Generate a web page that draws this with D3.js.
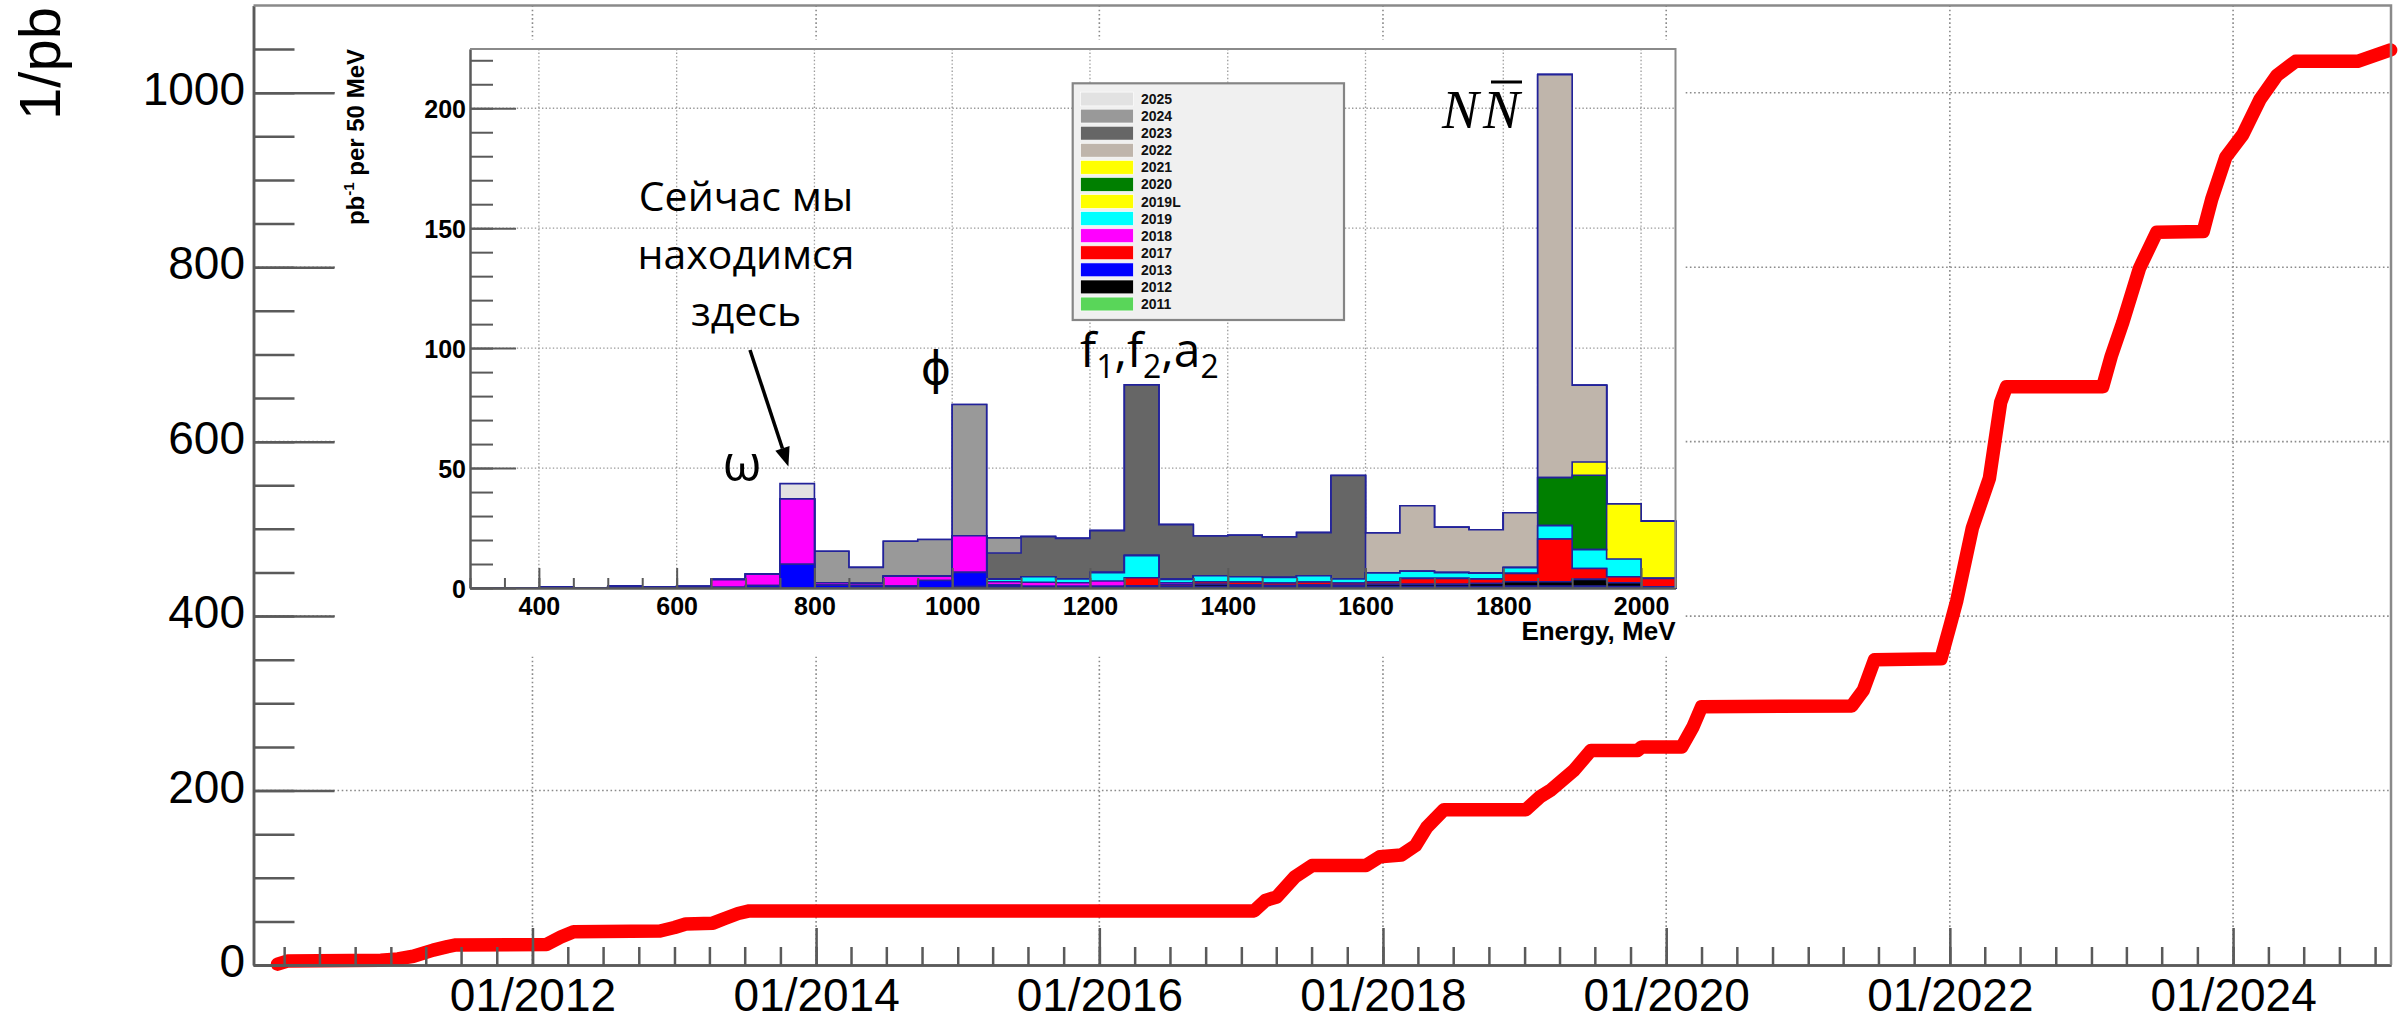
<!DOCTYPE html>
<html>
<head>
<meta charset="utf-8">
<script src="https://cdn.jsdelivr.net/npm/d3@7/dist/d3.min.js"></script>
<style>
  html, body { margin: 0; padding: 0; background: #ffffff; }
  svg { display: block; font-family: "Liberation Sans", Arial, sans-serif; }
</style>
</head>
<body>
<svg id="chart" width="2404" height="1020"></svg>
<script>
// ---------- Integrated luminosity collected since 2010 (1/pb) ----------
const lumiDates = [
  "2010-03-15","2010-04-09","2010-12-06","2011-01-19","2011-02-28","2011-04-20","2011-05-27","2011-06-18",
  "2012-02-06","2012-03-14","2012-04-16","2012-11-25","2013-01-01","2013-01-30","2013-04-10","2013-05-09",
  "2013-06-14","2013-07-13","2017-02-03","2017-03-04","2017-04-02","2017-05-19","2017-07-02","2017-11-18",
  "2017-12-24","2018-02-17","2018-03-26","2018-04-24","2018-06-07","2019-01-04","2019-02-10","2019-03-11",
  "2019-05-08","2019-06-21","2019-10-19","2019-10-30","2020-02-10","2020-03-10","2020-04-01","2021-04-23",
  "2021-05-23","2021-06-21","2021-12-09","2022-01-01","2022-01-19","2022-02-28","2022-04-13","2022-05-12",
  "2022-05-27","2023-01-30","2023-02-21","2023-03-23","2023-05-05","2023-06-18","2023-10-16","2023-11-07",
  "2023-12-13","2024-01-26","2024-03-10","2024-04-23","2024-06-10","2024-11-17","2025-02-10"
];
const lumiTotals = [
  1, 4.5, 5.5, 7, 10, 17, 21, 23,
  23.5, 32, 38, 39, 43, 47, 48, 53,
  59, 62, 62, 74, 78, 101, 114, 114,
  124, 126, 137, 158, 178, 178, 193, 201,
  223, 246, 246, 250, 250, 273, 296, 297,
  315, 350, 351, 388, 418, 501, 558, 645,
  663, 663, 698, 737, 799, 840, 841, 878,
  926, 952, 992, 1020, 1036, 1036, 1049
];

// Axis ticks of the luminosity-vs-date plot
const yearTicks = ["2012-01-01","2014-01-01","2016-01-01","2018-01-01","2020-01-01","2022-01-01","2024-01-01"];
const lumiTicks = [0, 200, 400, 600, 800, 1000];

// ---------- Luminosity per 50 MeV energy bin, one array per season ----------
const energyBins = [300,350,400,450,500,550,600,650,700,750,800,850,900,950,1000,1050,1100,1150,1200,1250,
                    1300,1350,1400,1450,1500,1550,1600,1650,1700,1750,1800,1850,1900,1950,2000];
const seasons = ["2011","2012","2013","2017","2018","2019","2019L","2020","2021","2022","2023","2024","2025"];

const lumi2011  = [0,0,0,0,0,0,0,0,0,0, 0,0,0,0,0.6,0.6,0.6,0.6,0.6,0.5, 0.6,0.6,0.6,0.6,0.6,0.6,0.6,0.6,0.6,0.6, 0.8,0.8,0.8,0.6,0];
const lumi2012  = [0,0,0,0,0,0,0,0,0,0, 0,0,0,0,0,0,0,0,0,0.4, 0,0.9,0.6,0.4,0.6,0.5,0.9,0.9,0.9,1.3, 1.8,1.8,2.8,1.6,0.5];
const lumi2013  = [0,0,0.4,0,0,0,0,0.3,1.0,9.9, 1.2,1.0,0.8,3.1,5.9,0.6,0,0,0,0, 0,0,0,0,0,0,0,0,0,0, 0,0,0,0,0];
const lumi2017  = [0,0,0,0,0,0,0,0,0,0, 0,0,0,0,0,0,0,0,0,3.4, 0.8,1.1,1.3,1.1,1.3,1.0,1.1,2.5,2.5,1.9, 3.5,17.8,4.5,2.5,3.5];
const lumi2018  = [0,0,0,0,0.7,0.5,0.6,3.2,4.8,27.2, 1.0,0.9,4.1,1.8,15.3,1.4,1.8,1.6,2.3,0, 0.8,0,0,0,0,0,0,0,0,0, 0,0,0,0,0];
const lumi2019  = [0,0,0,0,0,0,0,0,0,0, 0,0,0,0,0,1.1,2.3,1.6,3.5,9.2, 1.4,2.5,2.2,2.3,2.6,1.7,3.7,3.0,2.4,2.4, 2.4,5.6,7.9,7.4,0];
const lumi2019L = [0,0,0,0,0,0,0,0,0,0, 0,0,0,0,0,0,0,0,0,0, 0,0,0,0,0,0,0,0,0,0, 0,0,0,22.9,23.8];
const lumi2020  = [0,0,0,0,0,0,0,0,0,0, 0,0,0,0,0,0,0,0,0,0, 0,0,0,0,0,0,0,0,0,0, 0,20.0,31.0,0,0];
const lumi2021  = [0,0,0,0,0,0,0,0,0,0, 0,0,0,0,0,0,0,0,0,0, 0,0,0,0,0,0,0,0,0,0, 0,0,5.5,0,0];
const lumi2022  = [0,0,0,0,0,0,0,0,0,0, 0,0,0,0,0,0,0,0,0,0, 0,0,0,0,0,0,16.6,27.3,18.9,18.1, 22.9,168.0,32.0,0,0];
const lumi2023  = [0,0,0,0,0,0,0,0,0,0, 0,0,0,0,0,10.9,16.7,16.9,17.5,71.2, 22.8,16.6,17.3,16.9,18.0,43.1,0,0,0,0, 0,0,0,0,0];
const lumi2024  = [0,0,0,0,0,0,0,0,0,0, 13.1,6.7,14.6,15.3,54.7,6.3,0,0,0,0, 0,0,0,0,0,0,0,0,0,0, 0,0,0,0,0];
const lumi2025  = [0,0,0,0,0,0,0,0,0,6.4, 0,0,0,0,0,0,0,0,0,0, 0,0,0,0,0,0,0,0,0,0, 0,0,0,0,0];

const seasonValues = [lumi2011, lumi2012, lumi2013, lumi2017, lumi2018, lumi2019, lumi2019L,
                      lumi2020, lumi2021, lumi2022, lumi2023, lumi2024, lumi2025];
const seasonColors = ["#59d659","#000000","#0000ff","#ff0000","#ff00ff","#00ffff","#ffff00",
                      "#007f00","#ffff00","#bfb5ab","#666666","#999999","#e2e2e2"];

const energyTicks = [400, 600, 800, 1000, 1200, 1400, 1600, 1800, 2000];
const perBinTicks = [0, 50, 100, 150, 200];

// =====================================================================
const svg = d3.select("#chart");
const parse = d3.utcParse("%Y-%m-%d");

// ---------- main plot: luminosity vs date ----------
const F = { left: 253.5, right: 2391, top: 5.5, bottom: 965 };
const x = d3.scaleUtc()
  .domain([new Date(Date.UTC(2010, 0, 12)), new Date(Date.UTC(2025, 1, 11))])
  .range([F.left, F.right]);
const y = d3.scaleLinear().domain([0, 1100]).range([F.bottom, F.top]);

const yearDates = yearTicks.map(parse);

// dotted grid
const grid = svg.append("g")
  .attr("stroke", "#8a8a8a").attr("stroke-width", 1.6).attr("stroke-dasharray", "1.6,2.6");
grid.selectAll("line.gx").data(yearDates).join("line").attr("class", "gx")
  .attr("x1", d => x(d)).attr("x2", d => x(d)).attr("y1", F.top).attr("y2", F.bottom);
grid.selectAll("line.gy").data(lumiTicks.filter(v => v > 0)).join("line").attr("class", "gy")
  .attr("x1", F.left).attr("x2", F.right).attr("y1", d => y(d)).attr("y2", d => y(d));

// integrated luminosity curve
const lumiSeries = lumiDates.map((d, i) => ({ date: parse(d), v: lumiTotals[i] }));
svg.append("path")
  .datum(lumiSeries)
  .attr("fill", "none").attr("stroke", "#ff0000").attr("stroke-width", 13.5)
  .attr("stroke-linejoin", "round").attr("stroke-linecap", "round")
  .attr("d", d3.line().x(d => x(d.date)).y(d => y(d.v)));

function styleAxis(g, size, weight) {
  g.attr("font-size", size).attr("font-family", "'Liberation Sans', Arial, sans-serif")
   .attr("font-weight", weight || "normal");
  g.selectAll(".tick line").attr("stroke", "#5a5a5a").attr("stroke-width", 2.5);
  g.selectAll(".tick text").attr("fill", "#000");
  g.select(".domain").attr("stroke", "#5a5a5a").attr("stroke-width", 2.5);
}

// x axis: minor every 3 months, major every 2 years
const gxMinor = svg.append("g").attr("transform", `translate(0,${F.bottom})`)
  .call(d3.axisBottom(x).ticks(d3.utcMonth.every(3)).tickSize(-18).tickSizeOuter(0).tickFormat(""));
styleAxis(gxMinor, 46);
const gxMajor = svg.append("g").attr("transform", `translate(0,${F.bottom})`)
  .call(d3.axisBottom(x).tickValues(yearDates).tickSize(-37).tickSizeOuter(0).tickPadding(13)
        .tickFormat(d3.utcFormat("%m/%Y")));
styleAxis(gxMajor, 46);

// y axis: minor every 50, major every 200
const gyMinor = svg.append("g").attr("transform", `translate(${F.left},0)`)
  .call(d3.axisLeft(y).tickValues(d3.range(0, 1100, 50)).tickSize(-41).tickSizeOuter(0).tickFormat(""));
styleAxis(gyMinor, 46);
const gyMajor = svg.append("g").attr("transform", `translate(${F.left},0)`)
  .call(d3.axisLeft(y).tickValues(lumiTicks).tickSize(-81).tickSizeOuter(0).tickPadding(8.5)
        .tickFormat(d3.format("d")));
styleAxis(gyMajor, 46);
gyMajor.selectAll(".tick text").attr("dy", "0.25em");

// frame top / right
svg.append("path")
  .attr("d", `M${F.left},${F.top}H${F.right}V${F.bottom}`)
  .attr("fill", "none").attr("stroke", "#8a8a8a").attr("stroke-width", 2.5);

// y title
svg.append("text")
  .attr("transform", "translate(60,7) rotate(-90)")
  .attr("text-anchor", "end").attr("font-size", 58).attr("fill", "#000")
  .text("1/pb");

// ---------- inset: luminosity per energy bin ----------
const inset = svg.append("g");
inset.append("rect").attr("x", 336).attr("y", 39.5).attr("width", 1348).attr("height", 617).attr("fill", "#fff");

const I = { left: 470, right: 1675.5, top: 49, bottom: 588 };

// stacked cumulative sums
let running = energyBins.map(() => 0);
const stackLayers = seasons.map((name, k) => {
  running = running.map((c, i) => c + seasonValues[k][i]);
  return { name, color: seasonColors[k], tops: running.slice() };
});
const totals = stackLayers[stackLayers.length - 1].tops;

const ex = d3.scaleLinear().domain([300, 2050]).range([I.left, I.right]);
const ey = d3.scaleLinear().domain([0, d3.max(totals) * 1.05]).range([I.bottom, I.top]);

// inset grid
const igrid = inset.append("g")
  .attr("stroke", "#9a9a9a").attr("stroke-width", 1.3).attr("stroke-dasharray", "1.4,2.2");
igrid.selectAll("line.vx").data(energyTicks).join("line").attr("class", "vx")
  .attr("x1", d => ex(d)).attr("x2", d => ex(d)).attr("y1", I.top).attr("y2", I.bottom);
igrid.selectAll("line.hy").data(perBinTicks.filter(v => v > 0)).join("line").attr("class", "hy")
  .attr("x1", I.left).attr("x2", I.right).attr("y1", d => ey(d)).attr("y2", d => ey(d));

// stacked histogram: draw the full sum first, then each lower partial sum on top
const stepArea = d3.area().curve(d3.curveStepAfter)
  .x(d => ex(d.e)).y0(ey(0)).y1(d => ey(d.v));
const layerPoints = L => energyBins.map((e, i) => ({ e, v: L.tops[i] }))
  .concat([{ e: energyBins[energyBins.length - 1] + 50, v: L.tops[L.tops.length - 1] }]);
inset.append("g").selectAll("path")
  .data(stackLayers.slice().reverse())
  .join("path")
  .attr("d", L => stepArea(layerPoints(L)))
  .attr("fill", L => L.color)
  .attr("stroke", "#22229a").attr("stroke-width", 1.6).attr("stroke-linejoin", "miter");

// inset axes
const ixMinor = inset.append("g").attr("transform", `translate(0,${I.bottom})`)
  .call(d3.axisBottom(ex).tickValues(d3.range(300, 2051, 50)).tickSize(-10).tickSizeOuter(0).tickFormat(""));
styleAxis(ixMinor, 25, "bold");
const ixMajor = inset.append("g").attr("transform", `translate(0,${I.bottom})`)
  .call(d3.axisBottom(ex).tickValues(energyTicks).tickSize(-20).tickSizeOuter(0).tickPadding(9)
        .tickFormat(d3.format("d")));
styleAxis(ixMajor, 25, "bold");
const iyMinor = inset.append("g").attr("transform", `translate(${I.left},0)`)
  .call(d3.axisLeft(ey).tickValues(d3.range(0, 221, 10)).tickSize(-23).tickSizeOuter(0).tickFormat(""));
styleAxis(iyMinor, 25, "bold");
const iyMajor = inset.append("g").attr("transform", `translate(${I.left},0)`)
  .call(d3.axisLeft(ey).tickValues(perBinTicks).tickSize(-46).tickSizeOuter(0).tickPadding(4)
        .tickFormat(d3.format("d")));
styleAxis(iyMajor, 25, "bold");
iyMajor.selectAll(".tick text").attr("dy", "0.36em");
[ixMinor, ixMajor, iyMinor, iyMajor].forEach(g => {
  g.selectAll(".tick line").attr("stroke-width", 2);
  g.select(".domain").attr("stroke-width", 2);
});

inset.append("path")
  .attr("d", `M${I.left},${I.top}H${I.right}V${I.bottom}`)
  .attr("fill", "none").attr("stroke", "#8a8a8a").attr("stroke-width", 2);

// inset axis titles
inset.append("text")
  .attr("x", I.right).attr("y", 640)
  .attr("text-anchor", "end").attr("font-size", 26).attr("font-weight", "bold").attr("fill", "#000")
  .text("Energy, MeV");
const ytitle = inset.append("text")
  .attr("transform", "translate(364,49) rotate(-90)")
  .attr("text-anchor", "end").attr("font-size", 24).attr("font-weight", "bold").attr("fill", "#000");
ytitle.append("tspan").text("pb");
ytitle.append("tspan").attr("font-size", 15).attr("dy", -10).text("-1");
ytitle.append("tspan").attr("dy", 10).text(" per 50 MeV");

// legend
const legend = inset.append("g");
legend.append("rect").attr("x", 1072.7).attr("y", 83.3).attr("width", 271.3).attr("height", 236.7)
  .attr("fill", "#f0f0f0").attr("stroke", "#858585").attr("stroke-width", 2.2);
const legendRows = stackLayers.slice().reverse();
const rowY = d3.scalePoint().domain(legendRows.map(d => d.name)).range([99, 304]);
const row = legend.selectAll("g.row").data(legendRows).join("g").attr("class", "row")
  .attr("transform", d => `translate(0,${rowY(d.name)})`);
row.append("rect").attr("x", 1080.7).attr("y", -6.9).attr("width", 52.6).attr("height", 13.8)
  .attr("fill", d => d.color).attr("stroke", "#ffffff").attr("stroke-width", 0.6);
row.append("text").attr("x", 1141).attr("y", 5)
  .attr("font-size", 14).attr("font-weight", "bold").attr("fill", "#111")
  .text(d => d.name);

// annotations
const note = inset.append("g").attr("font-family", "'Open Sans', 'Noto Sans', sans-serif").attr("fill", "#000");
note.append("text").attr("x", 746).attr("y", 210.6).attr("text-anchor", "middle").attr("font-size", 41).text("Сейчас мы");
note.append("text").attr("x", 746).attr("y", 268.6).attr("text-anchor", "middle").attr("font-size", 41).text("находимся");
note.append("text").attr("x", 746).attr("y", 325.7).attr("text-anchor", "middle").attr("font-size", 41).text("здесь");

// arrow towards the omega bin
const tip = [788.4, 466.5], tail = [750, 350];
const len = Math.hypot(tip[0] - tail[0], tip[1] - tail[1]);
const ux = (tip[0] - tail[0]) / len, uy = (tip[1] - tail[1]) / len;
const hl = 19, hw = 7.5;
const base = [tip[0] - ux * hl, tip[1] - uy * hl];
note.append("line").attr("x1", tail[0]).attr("y1", tail[1]).attr("x2", base[0]).attr("y2", base[1])
  .attr("stroke", "#000").attr("stroke-width", 3.5);
note.append("path")
  .attr("d", `M${tip[0]},${tip[1]}L${base[0] - uy * hw},${base[1] + ux * hw}L${base[0] + uy * hw},${base[1] - ux * hw}Z`)
  .attr("fill", "#000");

note.append("text").attr("x", 742).attr("y", 481).attr("text-anchor", "middle").attr("font-size", 50).text("ω");
note.append("text").attr("x", 936).attr("y", 384).attr("text-anchor", "middle").attr("font-size", 46)
  .attr("font-family", "'DejaVu Sans', sans-serif").text("ϕ");

const fl = note.append("text").attr("x", 1080).attr("y", 366.5).attr("font-size", 48);
[["f", 0], ["1", 1], [",f", 2], ["2", 1], [",a", 2], ["2", 1]].forEach(([t, kind]) => {
  const ts = fl.append("tspan").text(t);
  if (kind === 1) ts.attr("font-size", 32).attr("dy", 11);
  if (kind === 2) ts.attr("dy", -11);
});

const nn = note.append("g").attr("font-family", "'Liberation Serif', serif").attr("font-style", "italic").attr("font-size", 55);
nn.append("text").attr("x", 1442).attr("y", 128).text("N");
nn.append("text").attr("x", 1483).attr("y", 128).text("N");
nn.append("line").attr("x1", 1491).attr("x2", 1522).attr("y1", 82).attr("y2", 82)
  .attr("stroke", "#000").attr("stroke-width", 3);
</script>
</body>
</html>
